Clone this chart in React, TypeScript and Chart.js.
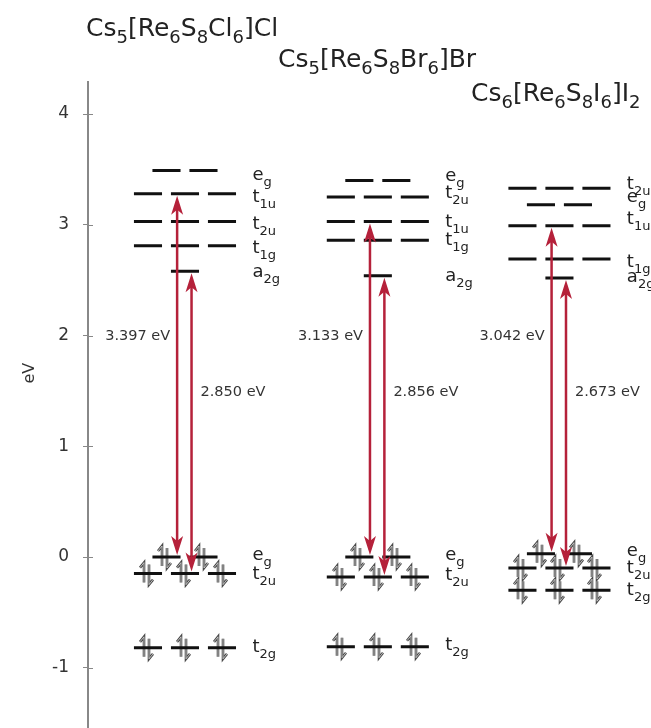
import React, { useEffect, useRef } from 'react';
import { Chart, registerables } from 'chart.js';

Chart.register(...registerables);

// ---------------- data ----------------
const TITLES = [
  'Cs_{5}[Re_{6}S_{8}Cl_{6}]Cl',
  'Cs_{5}[Re_{6}S_{8}Br_{6}]Br',
  'Cs_{6}[Re_{6}S_{8}I_{6}]I_{2}',
];

const CL_LEVELS = ['e_{g}', 't_{1u}', 't_{2u}', 't_{1g}', 'a_{2g}', 'e_{g}', 't_{2u}', 't_{2g}'];
const CL_ENERGY = [3.49, 3.28, 3.03, 2.81, 2.58, 0.0, -0.15, -0.82];

const BR_LEVELS = ['e_{g}', 't_{2u}', 't_{1u}', 't_{1g}', 'a_{2g}', 'e_{g}', 't_{2u}', 't_{2g}'];
const BR_ENERGY = [3.4, 3.25, 3.03, 2.86, 2.54, 0.0, -0.18, -0.81];

const I_LEVELS = ['t_{2u}', 'e_{g}', 't_{1u}', 't_{1g}', 'a_{2g}', 'e_{g}', 't_{2u}', 't_{2g}'];
const I_ENERGY = [3.33, 3.18, 2.99, 2.69, 2.52, 0.03, -0.1, -0.3];

const OCCUPIED = [false, false, false, false, false, true, true, true];

// transitions per compound: [left arrow, right arrow], level indices
const TRANSITION_FROM = [[5, 6], [5, 6], [5, 6]];
const TRANSITION_TO = [[1, 4], [2, 4], [2, 4]];
const TRANSITION_LABELS = [
  ['3.397 eV', '2.850 eV'],
  ['3.133 eV', '2.856 eV'],
  ['3.042 eV', '2.673 eV'],
];

const Y_TICKS = [-1, 0, 1, 2, 3, 4];
const Y_TITLE = 'eV';

// ---------------- layout ----------------
const W = 651;
const H = 728;
const LEVEL_NAMES = [CL_LEVELS, BR_LEVELS, I_LEVELS];
const LEVEL_ENERGIES = [CL_ENERGY, BR_ENERGY, I_ENERGY];
const COLUMN_X = [0, 1.03, 2];
const X_MIN = -0.518;
const X_MAX = 2.489;
const Y_MIN = -1.544;
const Y_MAX = 4.289;
const SEG_SPACING = 0.1976;
const SEG_HALF = 0.075;
const LABEL_DX = 0.36;
const ARROW_DX = [-0.042, 0.035];
const SHAFT_INSET = 0.07;
const TRANS_LABEL_Y = [1.99, 1.49];
const LABEL_DY = [
  [4, 3, 2, 2, 0, -3, 0, -1],
  [-5, -5, 0, -1, 0, -3, -2, -2],
  [-5, -8, -7, 2, -1, -3, -1, -1],
];
const TITLE_POS = [
  [86, 36],
  [278, 67],
  [471, 101],
];
const DEGEN: Record<string, number> = { a: 1, e: 2, t: 3 };
const FONT = '"DejaVu Sans", Verdana, sans-serif';
const RED = '#b5213a';

function segCenters(col: number, idx: number): number[] {
  const n = DEGEN[LEVEL_NAMES[col][idx][0]] || 1;
  const out: number[] = [];
  for (let k = 0; k < n; k++) out.push(COLUMN_X[col] + (k - (n - 1) / 2) * SEG_SPACING);
  return out;
}

function parseRich(s: string) {
  const out: { t: string; sub: boolean }[] = [];
  const re = /_\{([^}]*)\}/g;
  let last = 0;
  let m: RegExpExecArray | null;
  while ((m = re.exec(s))) {
    if (m.index > last) out.push({ t: s.slice(last, m.index), sub: false });
    out.push({ t: m[1], sub: true });
    last = re.lastIndex;
  }
  if (last < s.length) out.push({ t: s.slice(last), sub: false });
  return out;
}

function drawRich(ctx: CanvasRenderingContext2D, s: string, x: number, y: number, main: number, sub: number, subDy: number, color: string) {
  ctx.fillStyle = color;
  ctx.textBaseline = 'alphabetic';
  ctx.textAlign = 'left';
  let cx = x;
  for (const p of parseRich(s)) {
    ctx.font = `${p.sub ? sub : main}px ${FONT}`;
    ctx.fillText(p.t, cx, p.sub ? y + subDy : y);
    cx += ctx.measureText(p.t).width;
  }
}

const diagramPlugin = {
  id: 'mo-diagram',
  beforeDatasetsDraw(chart: any) {
    const { ctx, scales } = chart;
    const xs = scales.x;
    const ys = scales.y;
    ctx.save();
    ctx.lineCap = 'butt';
    ctx.lineJoin = 'miter';
    const paths: [number, number][][] = [];
    for (let col = 0; col < 3; col++) {
      LEVEL_ENERGIES[col].forEach((e, i) => {
        if (!OCCUPIED[i]) return;
        const py = ys.getPixelForValue(e);
        for (const c of segCenters(col, i)) {
          const px = Math.round(xs.getPixelForValue(c));
          paths.push([[px - 4, py + 9], [px - 4, py - 11], [px - 8, py - 6]]);
          paths.push([[px + 1, py - 9], [px + 1, py + 11], [px + 5, py + 6]]);
        }
      });
    }
    const strokeAll = (color: string, w: number) => {
      ctx.strokeStyle = color;
      ctx.lineWidth = w;
      ctx.beginPath();
      for (const p of paths) {
        ctx.moveTo(p[0][0], p[0][1]);
        for (let k = 1; k < p.length; k++) ctx.lineTo(p[k][0], p[k][1]);
      }
      ctx.stroke();
    };
    strokeAll('#4a4a4a', 2.6);
    strokeAll('#d8d8d8', 0.8);
    ctx.restore();
  },
  afterDatasetsDraw(chart: any) {
    const { ctx, scales, chartArea } = chart;
    const xs = scales.x;
    const ys = scales.y;
    ctx.save();
    // arrow heads
    ctx.fillStyle = RED;
    const head = (x: number, tipY: number, dir: number) => {
      const L = 19, HW = 6, N = 14;
      ctx.beginPath();
      ctx.moveTo(x, tipY);
      ctx.lineTo(x - HW, tipY - dir * L);
      ctx.lineTo(x, tipY - dir * N);
      ctx.lineTo(x + HW, tipY - dir * L);
      ctx.closePath();
      ctx.fill();
    };
    for (let col = 0; col < 3; col++) {
      for (let k = 0; k < 2; k++) {
        const x = xs.getPixelForValue(COLUMN_X[col] + ARROW_DX[k]);
        const yLow = ys.getPixelForValue(LEVEL_ENERGIES[col][TRANSITION_FROM[col][k]]) - 2;
        const yHigh = ys.getPixelForValue(LEVEL_ENERGIES[col][TRANSITION_TO[col][k]]) + 2;
        head(x, yHigh, -1);
        head(x, yLow, 1);
      }
    }
    // transition labels
    ctx.font = `14.5px ${FONT}`;
    ctx.fillStyle = '#333';
    ctx.textBaseline = 'middle';
    for (let col = 0; col < 3; col++) {
      const xl = xs.getPixelForValue(COLUMN_X[col] + ARROW_DX[0]);
      const xr = xs.getPixelForValue(COLUMN_X[col] + ARROW_DX[1]);
      ctx.textAlign = 'right';
      ctx.fillText(TRANSITION_LABELS[col][0], xl - 7, ys.getPixelForValue(TRANS_LABEL_Y[0]));
      ctx.textAlign = 'left';
      ctx.fillText(TRANSITION_LABELS[col][1], xr + 9, ys.getPixelForValue(TRANS_LABEL_Y[1]));
    }
    // level labels
    for (let col = 0; col < 3; col++) {
      LEVEL_NAMES[col].forEach((name, i) => {
        const px = xs.getPixelForValue(COLUMN_X[col] + LABEL_DX);
        const py = ys.getPixelForValue(LEVEL_ENERGIES[col][i]) + 5.5 + LABEL_DY[col][i];
        drawRich(ctx, name, px, py, 18, 13, 6, '#222');
      });
    }
    // titles
    TITLES.forEach((t, i) => drawRich(ctx, t, TITLE_POS[i][0], TITLE_POS[i][1], 25, 18, 7, '#222'));
    // inner tick marks
    ctx.strokeStyle = '#888';
    ctx.lineWidth = 1;
    ctx.beginPath();
    for (const v of Y_TICKS) {
      const py = Math.round(ys.getPixelForValue(v)) + 0.5;
      ctx.moveTo(chartArea.left, py);
      ctx.lineTo(chartArea.left + 5, py);
    }
    ctx.stroke();
    // axis title
    ctx.save();
    ctx.translate(30, ys.getPixelForValue(1.66));
    ctx.rotate(-Math.PI / 2);
    ctx.font = `16px ${FONT}`;
    ctx.fillStyle = '#333';
    ctx.textAlign = 'center';
    ctx.textBaseline = 'middle';
    ctx.fillText(Y_TITLE, 0, 0);
    ctx.restore();
    ctx.restore();
  },
};

export default function App() {
  const ref = useRef<HTMLCanvasElement | null>(null);
  useEffect(() => {
    document.body.style.margin = '0';
    document.body.style.overflow = 'hidden';
    document.documentElement.style.overflow = 'hidden';
    if (!ref.current) return;
    const levelPts: { x: number; y: number | null }[] = [];
    for (let col = 0; col < 3; col++) {
      LEVEL_ENERGIES[col].forEach((e, i) => {
        for (const c of segCenters(col, i)) {
          levelPts.push({ x: c - SEG_HALF, y: e }, { x: c + SEG_HALF, y: e }, { x: c + SEG_HALF, y: null });
        }
      });
    }
    const shaftPts: { x: number; y: number | null }[] = [];
    for (let col = 0; col < 3; col++) {
      for (let k = 0; k < 2; k++) {
        const x = COLUMN_X[col] + ARROW_DX[k];
        const y0 = LEVEL_ENERGIES[col][TRANSITION_FROM[col][k]];
        const y1 = LEVEL_ENERGIES[col][TRANSITION_TO[col][k]];
        shaftPts.push({ x, y: y0 + SHAFT_INSET }, { x, y: y1 - SHAFT_INSET }, { x, y: null });
      }
    }
    const chart = new Chart(ref.current, {
      type: 'line',
      data: {
        datasets: [
          {
            label: 'transitions',
            data: shaftPts as any,
            borderColor: RED,
            borderWidth: 2.5,
            pointRadius: 0,
            spanGaps: false,
            order: 0,
          },
          {
            label: 'levels',
            data: levelPts as any,
            borderColor: '#111',
            borderWidth: 3,
            pointRadius: 0,
            spanGaps: false,
            order: 1,
          },
        ],
      },
      options: {
        animation: false,
        responsive: false,
        devicePixelRatio: 1,
        layout: { padding: { top: 82, bottom: 0, left: 0, right: 0 } },
        plugins: { legend: { display: false }, tooltip: { enabled: false }, title: { display: false } },
        scales: {
          x: { type: 'linear', display: false, min: X_MIN, max: X_MAX },
          y: {
            type: 'linear',
            min: Y_MIN,
            max: Y_MAX,
            afterFit: (s: any) => {
              s.width = 88;
              s.paddingTop = 0;
              s.paddingBottom = 0;
            },
            afterBuildTicks: (s: any) => {
              s.ticks = Y_TICKS.map((v) => ({ value: v }));
            },
            ticks: {
              padding: 14,
              color: '#333',
              font: { family: FONT, size: 17 },
              callback: (v: any) => String(v),
            },
            grid: { drawOnChartArea: false, tickLength: 5, color: '#888', lineWidth: 1 },
            border: { display: true, color: '#888', width: 2 },
          },
        },
      },
      plugins: [diagramPlugin],
    } as any);
    return () => chart.destroy();
  }, []);
  return (
    <div style={{ width: W, height: H, overflow: 'hidden' }}>
      <canvas ref={ref} width={W} height={H} style={{ display: 'block', width: W, height: H }} />
    </div>
  );
}
